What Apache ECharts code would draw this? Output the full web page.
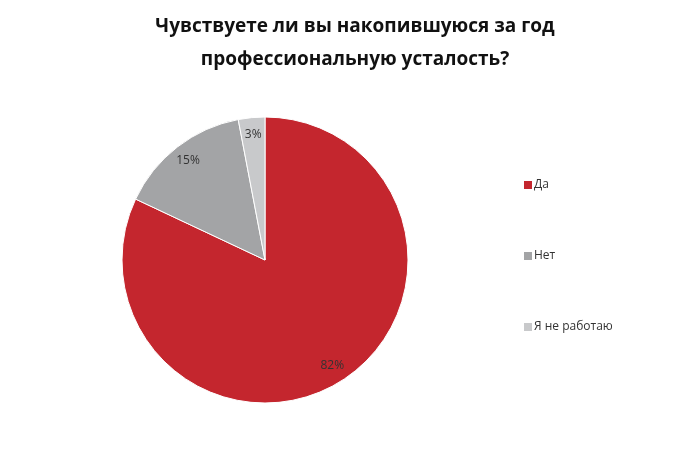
<!DOCTYPE html>
<html>
<head>
<meta charset="utf-8">
<script src="https://cdn.jsdelivr.net/npm/echarts@6/dist/echarts.min.js"></script>
<style>
  html, body { margin: 0; padding: 0; background: #fff; }
  #chart { width: 700px; height: 466px; }
</style>
</head>
<body>
<div id="chart"></div>
<script>
var categories = ['Да', 'Нет', 'Я не работаю'];
var values = [82, 15, 3];
var colors = ['#C4262E', '#A3A4A6', '#C8C9CB'];

var pieData = categories.map(function (name, i) {
    return { name: name, value: values[i], itemStyle: { color: colors[i] } };
});
var labelData = categories.map(function (name, i) {
    return { name: name, value: values[i] };
});

var myChart = echarts.init(document.getElementById('chart'));
var option = {
    backgroundColor: '#ffffff',
    title: {
        text: 'Чувствуете ли вы накопившуюся за год\nпрофессиональную усталость?',
        left: 350,
        top: 5,
        textAlign: 'center',
        textStyle: {
            fontFamily: 'Open Sans',
            fontWeight: 'bold',
            fontSize: 19,
            lineHeight: 33,
            color: '#111'
        }
    },
    legend: {
        orient: 'vertical',
        left: 517,
        top: 174,
        itemWidth: 10,
        itemHeight: 10,
        itemGap: 59,
        icon: 'rect',
        selectedMode: false,
        data: categories,
        textStyle: { fontFamily: 'Open Sans', fontSize: 12, color: '#333', padding: [0, 0, 0, -4] }
    },
    series: [{
            name: 'main',
            type: 'pie',
            center: [265, 260],
            radius: [0, 143],
            startAngle: 90,
            silent: true,
            label: { show: false },
            labelLine: { show: false },
            itemStyle: { borderColor: '#fff', borderWidth: 1 },
            data: pieData
        },
        {
            name: 'labels',
            type: 'pie',
            center: [265, 260],
            radius: [102, 143],
            startAngle: 90,
            silent: true,
            itemStyle: { color: 'transparent' },
            label: {
                show: true,
                position: 'inside',
                formatter: '{c}%',
                fontFamily: 'Open Sans',
                fontSize: 12,
                color: '#333'
            },
            labelLine: { show: false },
            data: labelData
        }
    ]
};
myChart.setOption(option);
</script>
</body>
</html>
